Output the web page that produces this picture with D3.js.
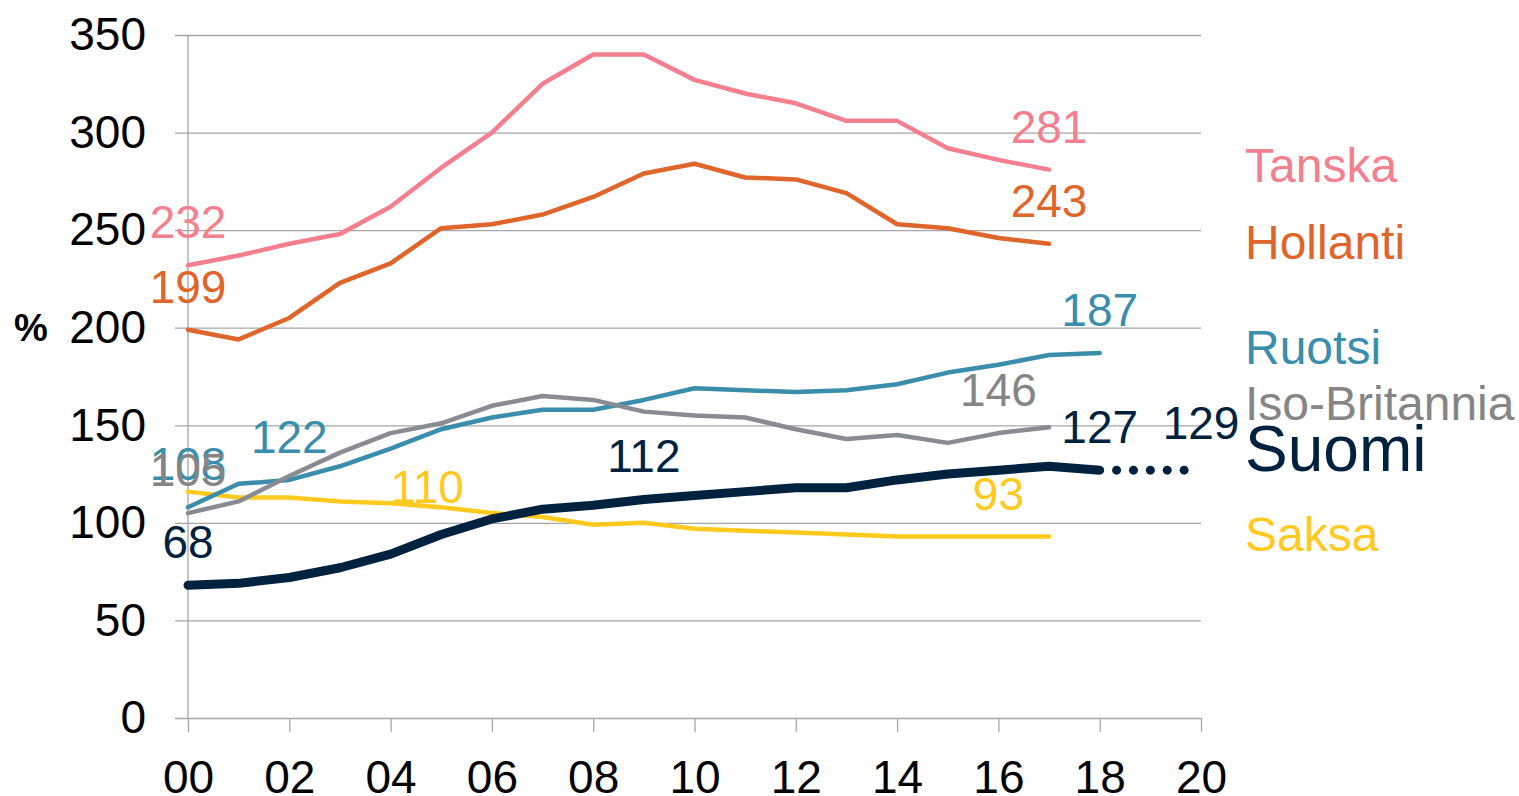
<!DOCTYPE html>
<html>
<head>
<meta charset="utf-8">
<script src="https://cdn.jsdelivr.net/npm/d3@7"></script>
<style>
  body { margin: 0; background: #fff; }
  text { font-family: "Liberation Sans", Arial, sans-serif; }
</style>
</head>
<body>
<div id="chart"></div>
<script>
// years as offsets from 2000
var years = d3.range(0, 18);
var yearsLong = d3.range(0, 19);
var xTicks = [0, 2, 4, 6, 8, 10, 12, 14, 16, 18, 20];
var yTicks = [0, 50, 100, 150, 200, 250, 300, 350];

var tanska = [232, 237, 243, 248, 262, 282, 300, 325, 340, 340, 327, 320, 315, 306, 306, 292, 286, 281];
var hollanti = [199, 194, 205, 223, 233, 251, 253, 258, 267, 279, 284, 277, 276, 269, 253, 251, 246, 243];
var ruotsi = [108, 120, 122, 129, 138, 148, 154, 158, 158, 163, 169, 168, 167, 168, 171, 177, 181, 186, 187];
var britannia = [105, 111, 124, 136, 146, 151, 160, 165, 163, 157, 155, 154, 148, 143, 145, 141, 146, 149];
var saksa = [116, 113, 113, 111, 110, 108, 105, 103, 99, 100, 97, 96, 95, 94, 93, 93, 93, 93];
var suomi = [68, 69, 72, 77, 84, 94, 102, 107, 109, 112, 114, 116, 118, 118, 122, 125, 127, 129, 127];
var suomiForecastYears = [18, 20];
var suomiForecast = [127, 127];

var width = 1519, height = 796;
var plotL = 188, plotR = 1201, plotT = 35, plotB = 718;

var x = d3.scaleLinear().domain([0, 20]).range([plotL, plotR]);
var y = d3.scaleLinear().domain([0, 350]).range([plotB, plotT]);

var svg = d3.select("#chart").append("svg")
    .attr("width", width)
    .attr("height", height)
    .style("background", "#fff");

// gridlines + y axis labels
var yAxis = d3.axisLeft(y).tickValues(yTicks).tickSize(plotR - plotL + 13).tickPadding(29);
svg.append("g")
    .attr("transform", "translate(" + plotR + ",0)")
    .call(yAxis)
    .call(function (g) {
        g.select(".domain").remove();
        g.selectAll(".tick line").attr("stroke", "#a6a6a6").attr("stroke-width", 1.3);
        g.selectAll(".tick text").attr("font-size", 46).attr("fill", "#000")
            .attr("font-family", "Liberation Sans, Arial, sans-serif");
    });

// x axis
var xAxis = d3.axisBottom(x).tickValues(xTicks).tickSize(14).tickPadding(28)
    .tickFormat(function (d) { return d3.format("02d")(d); });
svg.append("g")
    .attr("transform", "translate(0," + plotB + ")")
    .call(xAxis)
    .call(function (g) {
        g.select(".domain").remove();
        g.selectAll(".tick line").attr("stroke", "#a6a6a6").attr("stroke-width", 1.3);
        g.selectAll(".tick text").attr("font-size", 46).attr("fill", "#000")
            .attr("font-family", "Liberation Sans, Arial, sans-serif");
    });

// vertical axis line
svg.append("line")
    .attr("x1", x(0)).attr("x2", x(0))
    .attr("y1", y(350)).attr("y2", y(0))
    .attr("stroke", "#a6a6a6").attr("stroke-width", 1.3);

svg.append("text")
    .attr("x", 14).attr("y", y(200))
    .attr("dy", "0.36em")
    .attr("font-size", 38).attr("font-weight", "bold")
    .text("%");

var series = [
    { name: "Saksa", values: saksa, xs: years, color: "#ffc91e", text: "#ffc91e", w: 4.5 },
    { name: "Ruotsi", values: ruotsi, xs: yearsLong, color: "#3b8eab", text: "#3b8eab", w: 4.5 },
    { name: "Iso-Britannia", values: britannia, xs: years, color: "#898b93", text: "#858585", w: 4.5 },
    { name: "Hollanti", values: hollanti, xs: years, color: "#e0652b", text: "#e0652b", w: 4.5 },
    { name: "Tanska", values: tanska, xs: years, color: "#f47f8e", text: "#f47f8e", w: 4.5 },
    { name: "Suomi", values: suomi, xs: yearsLong, color: "#00223f", text: "#00223f", w: 9 }
];

var line = d3.line()
    .x(function (d) { return x(d[0]); })
    .y(function (d) { return y(d[1]); });

series.forEach(function (s) {
    svg.append("path")
        .datum(d3.zip(s.xs, s.values))
        .attr("fill", "none")
        .attr("stroke", s.color)
        .attr("stroke-width", s.w)
        .attr("stroke-linejoin", "round")
        .attr("stroke-linecap", "round")
        .attr("d", line);
});

// forecast dots for Suomi
var nDots = 6;
var fx = d3.scaleLinear().domain([0, nDots]).range([x(suomiForecastYears[0]), x(suomiForecastYears[1])]);
var fy = d3.scaleLinear().domain([0, nDots]).range([y(suomiForecast[0]), y(suomiForecast[1])]);
svg.selectAll(".dot")
    .data(d3.range(1, nDots))
    .enter().append("circle")
    .attr("cx", function (d) { return fx(d); })
    .attr("cy", function (d) { return fy(d); })
    .attr("r", 4.5)
    .attr("fill", "#00223f");

// value labels: [series, year, value]
var labels = [
    ["Tanska", 0, 232], ["Hollanti", 0, 199], ["Ruotsi", 0, 108], ["Iso-Britannia", 0, 105],
    ["Suomi", 0, 68], ["Ruotsi", 2, 122], ["Saksa", 4, 110], ["Suomi", 9, 112],
    ["Tanska", 17, 281], ["Hollanti", 17, 243], ["Ruotsi", 18, 187], ["Iso-Britannia", 16, 146],
    ["Suomi", 18, 127], ["Suomi", 20, 129], ["Saksa", 16, 93]
];
var colorOf = {};
series.forEach(function (s) { colorOf[s.name] = s.text; });

svg.selectAll(".vlabel")
    .data(labels)
    .enter().append("text")
    .attr("class", "vlabel")
    .attr("x", function (d) { return x(d[1]); })
    .attr("y", function (d) { return d[0] === "Saksa" && d[1] === 4 ? y(d[2]) : y(d[2]) - 27; })
    .attr("text-anchor", function (d) { return d[0] === "Saksa" && d[1] === 4 ? "start" : "middle"; })
    .attr("font-size", 46)
    .attr("fill", function (d) { return colorOf[d[0]]; })
    .text(function (d) { return d[2]; });

// legend labels
var legend = [
    { name: "Tanska", base: 182, size: 48 },
    { name: "Hollanti", base: 259, size: 48 },
    { name: "Ruotsi", base: 364, size: 48 },
    { name: "Iso-Britannia", base: 420, size: 48 },
    { name: "Suomi", base: 471, size: 64 },
    { name: "Saksa", base: 551, size: 48 }
];
svg.selectAll(".legend")
    .data(legend)
    .enter().append("text")
    .attr("x", 1245)
    .attr("y", function (d) { return d.base; })
    .attr("font-size", function (d) { return d.size; })
    .attr("fill", function (d) { return colorOf[d.name]; })
    .text(function (d) { return d.name; });
</script>
</body>
</html>
